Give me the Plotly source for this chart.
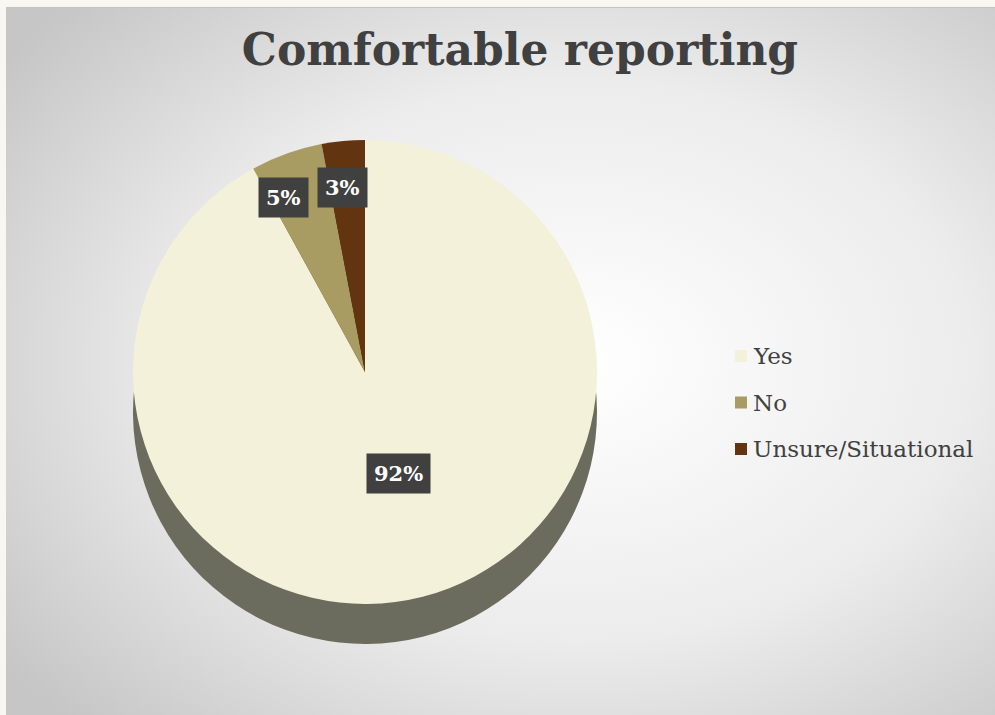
import base64
import math
import plotly.graph_objects as go

# ---- data ----
labels = ["Yes", "No", "Unsure/Situational"]
values = [92, 5, 3]
title_text = "Comfortable reporting"

# ---- style ----
colors = ["#F3F1DA", "#A99C63", "#623410"]
side_colors = ["#6C6C5E", "#5E5A40", "#3E2510"]
W, H = 995, 715
cx, cy, R = 365, 372, 232     # pie centre / radius in pixels
depth = 40                    # extrusion offset in pixels
stretch = 1.3                 # horizontal spread of label positions
font_serif = "DejaVu Serif"

def dom(cx_, cy_, r_):
    return dict(x=[(cx_ - r_) / W, (cx_ + r_) / W],
                y=[1 - (cy_ + r_) / H, 1 - (cy_ - r_) / H])

fig = go.Figure()

# extrusion (side of the 3D pie) drawn from the same data, shifted down
fig.add_trace(go.Pie(
    labels=labels, values=values, sort=False, direction="clockwise", rotation=0,
    marker=dict(colors=side_colors, line=dict(width=0)),
    textinfo="none", hoverinfo="skip", showlegend=False,
    domain=dom(cx, cy + depth, R),
))

# top face
fig.add_trace(go.Pie(
    labels=labels, values=values, sort=False, direction="clockwise", rotation=0,
    marker=dict(colors=colors, line=dict(width=0)),
    textinfo="none", showlegend=False,
    domain=dom(cx, cy, R),
))

annotations = []
shapes = []

# data labels in dark boxes, placed at each slice's mid angle
total = sum(values)
cum = 0.0
for lab, v in zip(labels, values):
    pct = v / total
    mid = (cum + pct / 2) * 2 * math.pi
    cum += pct
    rf = 0.45 if pct >= 0.10 else 0.80
    px = cx + stretch * rf * R * math.sin(mid)
    py = cy - rf * R * math.cos(mid)
    annotations.append(dict(
        x=px / W, y=1 - py / H, xref="paper", yref="paper",
        text=f"<b>{round(pct * 100)}%</b>", showarrow=False,
        font=dict(family=font_serif, size=21, color="white"),
        bgcolor="#404040", borderpad=7, xanchor="center", yanchor="middle",
    ))

# legend (square swatch + label), laid out vertically
leg_x, leg_y0, leg_step, sw = 735, 356, 46.5, 12
for i, (lab, c) in enumerate(zip(labels, colors)):
    yc = leg_y0 + i * leg_step
    shapes.append(dict(type="rect", xref="paper", yref="paper",
                       x0=leg_x / W, x1=(leg_x + sw) / W,
                       y0=1 - (yc + sw / 2) / H, y1=1 - (yc - sw / 2) / H,
                       fillcolor=c, line=dict(width=0), layer="above"))
    annotations.append(dict(
        x=(leg_x + sw + 4) / W, y=1 - yc / H, xref="paper", yref="paper",
        text=lab, showarrow=False, xanchor="left", yanchor="middle",
        font=dict(family=font_serif, size=23, color="#404040"),
    ))

# background panel (radial grey gradient)
pw, ph = W - 6, H - 7
svg = (f'<svg xmlns="http://www.w3.org/2000/svg" width="{pw}" height="{ph}">'
       '<defs><radialGradient id="g" cx="0.58" cy="0.5" r="0.72">'
       '<stop offset="0" stop-color="#ffffff"/>'
       '<stop offset="0.55" stop-color="#ececec"/>'
       '<stop offset="1" stop-color="#c6c6c6"/></radialGradient></defs>'
       f'<rect width="{pw}" height="{ph}" fill="url(#g)"/>'
       f'<line x1="0" y1="0.5" x2="{pw}" y2="0.5" stroke="#c4c4c4" stroke-width="1"/>'
       '</svg>')
src = "data:image/svg+xml;base64," + base64.b64encode(svg.encode()).decode()

fig.update_layout(
    width=W, height=H,
    margin=dict(l=0, r=0, t=0, b=0),
    paper_bgcolor="#F8F7F2",
    showlegend=False,
    images=[dict(source=src, xref="paper", yref="paper", x=6 / W, y=1 - 7 / H,
                 sizex=pw / W, sizey=ph / H, xanchor="left", yanchor="top",
                 sizing="stretch", layer="below")],
    title=dict(text=f"<b>{title_text}</b>", x=520 / W, y=1 - 50 / H,
               xanchor="center", yanchor="middle",
               font=dict(family=font_serif, size=44, color="#404040")),
    annotations=annotations,
    shapes=shapes,
)

fig.write_html("out.html")
